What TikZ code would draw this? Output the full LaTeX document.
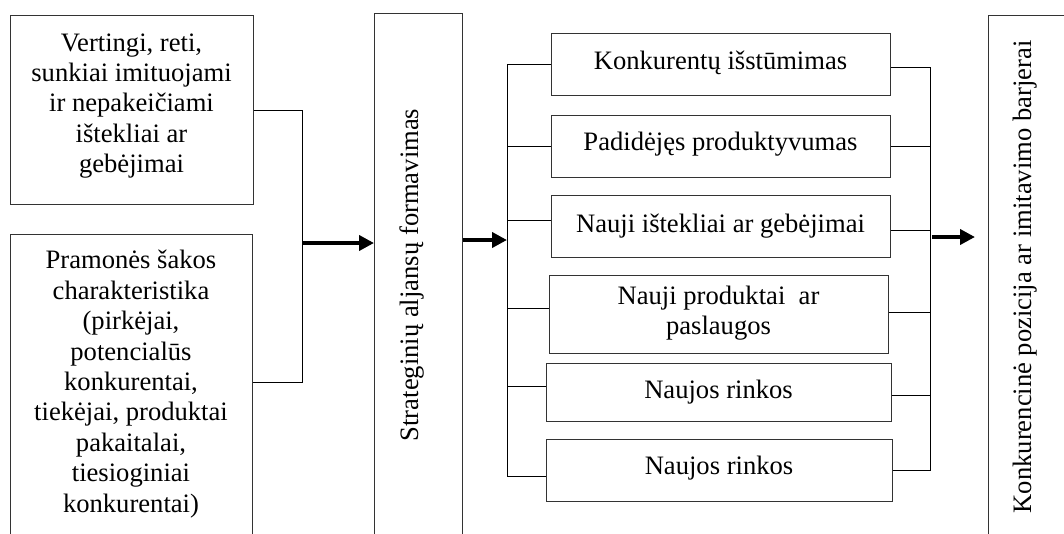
\documentclass[tikz,border=0pt]{standalone}
\usepackage{fontspec}
\setmainfont{Liberation Serif}
\usetikzlibrary{arrows.meta,calc}
\begin{document}
\begin{tikzpicture}[x=1pt,y=-1pt,
  frame/.style={draw=black!80, line width=0.9pt, inner sep=0pt, anchor=north west},
  wire/.style={draw=black, line width=0.9pt},
  bigarrow/.style={draw=black, line width=4.3pt, -{Triangle[length=15pt,width=15pt]}},
  txt/.style={font=\fontsize{26.6}{30.4}\selectfont, align=center, inner sep=0pt}]
\useasboundingbox (0,0) rectangle (1064,533);
\clip (0,0) rectangle (1064,533);

% input boxes
\node[frame, minimum width=243, minimum height=189] (v) at (10,15) {};
\node[frame, minimum width=242, minimum height=320] (p) at (10,234) {};
\node[txt] (vt) at (131.5,106) {Vertingi, reti,\\sunkiai imituojami\\ir nepakeičiami\\ištekliai ar\\gebėjimai};
\node[txt] (pt) at (131,384) {Pramonės šakos\\charakteristika\\(pirkėjai,\\potencialūs\\konkurentai,\\tiekėjai, produktai\\pakaitalai,\\tiesioginiai\\konkurentai)};

% alliance box
\node[frame, minimum width=88, minimum height=540] (s) at (374,13) {};
\node[txt, rotate=90] (st) at (412,275) {Strateginių aljansų formavimas};

% outcome boxes
\node[frame, minimum width=339, minimum height=62] (i1) at (551,33) {};
\node[frame, minimum width=339, minimum height=62] (i2) at (551,115) {};
\node[frame, minimum width=339, minimum height=62] (i3) at (551,195) {};
\node[frame, minimum width=339, minimum height=78] (i4) at (549,275) {};
\node[frame, minimum width=345, minimum height=58] (i5) at (546,363) {};
\node[frame, minimum width=346, minimum height=62] (i6) at (546,439) {};

\node[txt, anchor=base] (t1) at (720.5,69) {Konkurentų išstūmimas};
\node[txt, anchor=base] (t2) at (720.5,150) {Padidėjęs produktyvumas};
\node[txt, anchor=base] (t3) at (720.5,232) {Nauji ištekliai ar gebėjimai};
\begin{scope}
  \clip (i4.north west) rectangle ($(i4.south east)+(0,-10)$);
  \node[txt] (t4) at (718.5,313) {Nauji produktai~ ar\\paslaugos};
\end{scope}
\node[txt, anchor=base] (t5) at (718.5,398) {Naujos rinkos};
\node[txt, anchor=base] (t6) at (719,474) {Naujos rinkos};

% result box
\node[frame, minimum width=200, minimum height=540] (k) at (988,15) {};
\node[txt, rotate=90] (kt) at (1025,277) {Konkurencinė pozicija ar imitavimo barjerai};

% joining the two inputs
\coordinate (jl) at (302,243);
\coordinate (pout) at ($(p.north east)+(0,148)$);
\draw[wire] (v.east) -| (jl);
\draw[wire] (pout) -| (jl);
\draw[bigarrow] (jl) -- (jl -| s.west);

% left bracket
\coordinate (bl) at (507,240);
\coordinate (l3) at ($(i3.west)+(0,-6)$);
\coordinate (l4) at ($(i4.west)+(0,-6)$);
\coordinate (l5) at ($(i5.west)+(0,-6)$);
\coordinate (l6) at ($(i6.west)+(0,6)$);
\draw[bigarrow] (bl -| s.east) -- (bl);
\draw[wire] (i1.west) -- (i1.west -| bl) -- (l6 -| bl) -- (l6);
\draw[wire] (i2.west) -- (i2.west -| bl);
\draw[wire] (l3) -- (l3 -| bl);
\draw[wire] (l4) -- (l4 -| bl);
\draw[wire] (l5) -- (l5 -| bl);

% right bracket
\coordinate (br) at (930,237);
\coordinate (r1) at ($(i1.east)+(0,3)$);
\coordinate (r3) at ($(i3.east)+(0,4)$);
\coordinate (r4) at ($(i4.east)+(0,-2)$);
\coordinate (r5) at ($(i5.east)+(0,3)$);
\draw[wire] (r1) -- (r1 -| br) -- (i6.east -| br) -- (i6.east);
\draw[wire] (i2.east) -- (i2.east -| br);
\draw[wire] (r3) -- (r3 -| br);
\draw[wire] (r4) -- (r4 -| br);
\draw[wire] (r5) -- (r5 -| br);
\draw[bigarrow, shorten >=13pt] ([xshift=2pt]br) -- (br -| k.west);
\end{tikzpicture}
\end{document}
